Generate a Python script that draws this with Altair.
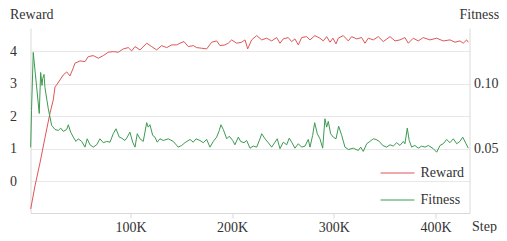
import altair as alt
import pandas as pd

FONT = "Liberation Serif, Times New Roman, Times, serif"
FS = 14

# ---- data ----
reward_steps = [
    1900, 6100, 11000, 15900, 20900, 24100, 25800, 27400, 30700, 33900,
    37300, 40500, 43800, 45400, 50400, 55300, 58500, 63400, 68400, 73300,
    78200, 83100, 88000, 93000, 97900, 101200, 104500, 109400, 116000, 120900,
    125800, 130700, 135600, 140600, 145500, 148700, 152700, 156900, 161800, 165100,
    170100, 175000, 179900, 184800, 188100, 193000, 196200, 199600, 204500, 209400,
    212700, 215300, 219200, 224200, 229100, 234000, 238900, 243800, 247100, 250300,
    255200, 258600, 261800, 265100, 268400, 273300, 276600, 281500, 286400, 289700,
    293000, 296300, 299200, 302200, 304400, 309300, 314300, 317600, 322500, 327400,
    330700, 333900, 338900, 343800, 348700, 355300, 360200, 365100, 370000, 373300,
    378200, 383100, 388000, 394600, 401200, 407700, 414300, 419200, 424100, 427300,
    430700, 432300,
]
reward_values = [
    -0.846, -0.138, 0.569, 1.338, 2.108, 2.508, 2.908, 2.969, 3.123, 3.277,
    3.369, 3.246, 3.492, 3.637, 3.708, 3.686, 3.84, 3.871, 3.791, 3.871,
    3.975, 3.994, 3.975, 4.077, 4.117, 4.015, 4.148, 4.046, 4.252, 4.148,
    4.046, 4.178, 4.117, 4.2, 4.2, 4.252, 4.302, 4.148, 4.178, 4.117,
    4.098, 4.077, 4.283, 4.323, 4.178, 4.2, 4.252, 4.354, 4.252, 4.283,
    4.354, 4.077, 4.354, 4.486, 4.354, 4.406, 4.323, 4.425, 4.252, 4.385,
    4.425, 4.302, 4.385, 4.2, 4.425, 4.455, 4.354, 4.486, 4.406, 4.323,
    4.455, 4.283, 4.406, 4.231, 4.406, 4.486, 4.323, 4.455, 4.385, 4.425,
    4.252, 4.406, 4.354, 4.455, 4.302, 4.455, 4.323, 4.354, 4.425, 4.252,
    4.406, 4.323, 4.425, 4.354, 4.406, 4.323, 4.354, 4.283, 4.323, 4.252,
    4.354, 4.283,
]

fitness_steps = [
    1900, 2700, 4400, 10300, 11700, 13000, 13700, 15000, 15900, 17900,
    19200, 22500, 25800, 29000, 31400, 33900, 37300, 38900, 41200, 43800,
    46400, 48700, 52000, 55300, 57500, 60200, 63400, 66800, 70000, 73300,
    76600, 79900, 83100, 85800, 89000, 91400, 94600, 96900, 99500, 102200,
    104500, 106700, 109400, 112600, 116000, 117500, 119200, 121900, 124100, 126400,
    129000, 132300, 137200, 142100, 147000, 150400, 153600, 158600, 161800, 164500,
    168400, 171600, 175000, 178200, 181500, 184800, 187400, 189000, 191300, 194700,
    197200, 200600, 202800, 206100, 208400, 211700, 214300, 217600, 220800, 224200,
    227400, 229100, 232400, 235600, 238900, 242200, 244400, 247100, 250300, 253700,
    256200, 258600, 261800, 265100, 268400, 271700, 274900, 276600, 279200, 281200,
    283800, 286400, 289100, 291300, 293000, 294600, 296900, 299500, 302200, 304800,
    307800, 311000, 314300, 319200, 324100, 326500, 329000, 332400, 335600, 338900,
    341500, 344800, 348100, 352000, 355300, 358500, 361900, 365100, 368400, 370000,
    372300, 374200, 376600, 379800, 383100, 386500, 389700, 393000, 397900, 401200,
    404500, 407700, 411000, 414300, 417600, 420900, 424100, 426800, 430100, 432300,
]
fitness_values = [
    0.0512, 0.0796, 0.1242, 0.0773, 0.1088, 0.0988, 0.1042, 0.1073, 0.0973, 0.0873,
    0.0809, 0.0681, 0.065, 0.0642, 0.066, 0.0635, 0.065, 0.0686, 0.0629, 0.0591,
    0.0558, 0.0578, 0.0558, 0.0514, 0.0578, 0.0532, 0.0514, 0.0532, 0.0578, 0.0548,
    0.0558, 0.0552, 0.0617, 0.0655, 0.0591, 0.0583, 0.0565, 0.0591, 0.0629, 0.0552,
    0.0514, 0.0617, 0.0578, 0.0558, 0.0702, 0.0668, 0.0686, 0.0604, 0.0591, 0.0552,
    0.0578, 0.0565, 0.0578, 0.0558, 0.0514, 0.0527, 0.0548, 0.0573, 0.0552, 0.0578,
    0.0565, 0.0548, 0.0573, 0.0514, 0.0558, 0.0591, 0.0642, 0.0686, 0.065, 0.0578,
    0.0598, 0.0565, 0.0532, 0.0591, 0.0558, 0.0548, 0.0565, 0.0506, 0.0522, 0.0514,
    0.0578, 0.0617, 0.0578, 0.0548, 0.0514, 0.0552, 0.0578, 0.0502, 0.0552, 0.0532,
    0.0583, 0.0552, 0.0506, 0.054, 0.0514, 0.0522, 0.0573, 0.0514, 0.0604, 0.0702,
    0.0617, 0.0578, 0.0506, 0.0732, 0.0668, 0.0712, 0.0617, 0.0591, 0.0578, 0.0675,
    0.0604, 0.0514, 0.0496, 0.0506, 0.0488, 0.0514, 0.0481, 0.054, 0.0558, 0.0578,
    0.0573, 0.0558, 0.0527, 0.0514, 0.0532, 0.0522, 0.0548, 0.0527, 0.0558, 0.054,
    0.066, 0.0565, 0.0514, 0.0527, 0.0506, 0.0522, 0.0514, 0.0527, 0.0502, 0.0475,
    0.0527, 0.054, 0.0573, 0.0548, 0.0578, 0.054, 0.0558, 0.0591, 0.054, 0.0506,
]

series_names = ["Reward", "Fitness"]
series_colors = ["#e05556", "#3d9a52"]
x_ticks = [100000, 200000, 300000, 400000]
reward_ticks = [0, 1, 2, 3, 4]
fitness_ticks = [0.05, 0.10]

df_r = pd.DataFrame({"step": reward_steps, "value": reward_values, "series": "Reward"})
df_f = pd.DataFrame({"step": fitness_steps, "value": fitness_values, "series": "Fitness"})

axis_text = dict(labelFont=FONT, titleFont=FONT, labelFontSize=FS, titleFontSize=FS,
                 labelColor="#333", titleColor="#333", titleFontWeight="normal")

x_enc = alt.X(
    "step:Q",
    scale=alt.Scale(domain=[1700, 433500], nice=False, zero=False),
    axis=alt.Axis(values=x_ticks, labelExpr="datum.value / 1000 + 'K'", grid=False,
                  tickSize=5, labelPadding=2, title="Step", titleX=441, titleY=13,
                  titleAlign="left", titleBaseline="middle", titleAngle=0, **axis_text),
)

color = alt.Color(
    "series:N",
    scale=alt.Scale(domain=series_names, range=series_colors),
    legend=alt.Legend(title=None, orient="none", legendX=360, legendY=138,
                      symbolType="M-3,0H3", symbolSize=128, symbolStrokeWidth=1,
                      labelOffset=16, rowPadding=13, padding=0, labelFontSize=FS,
                      labelFont=FONT, labelColor="#333"),
)

reward_line = alt.Chart(df_r).mark_line(strokeWidth=1).encode(
    x=x_enc,
    y=alt.Y("value:Q",
            scale=alt.Scale(domain=[-0.97, 4.72], nice=False, zero=False),
            axis=alt.Axis(orient="left", values=reward_ticks, grid=True, ticks=False,
                          labelPadding=14, title="Reward", titleAngle=0,
                          titleAlign="left", titleBaseline="middle",
                          titleX=-21, titleY=-13.5, **axis_text)),
    color=color,
)

fitness_line = alt.Chart(df_f).mark_line(strokeWidth=1).encode(
    x=x_enc,
    y=alt.Y("value:Q",
            scale=alt.Scale(domain=[0.00075, 0.143], nice=False, zero=False),
            axis=alt.Axis(orient="right", values=fitness_ticks, format=".2f", grid=False,
                          ticks=False, labelPadding=4, title="Fitness", titleAngle=0,
                          titleAlign="left", titleBaseline="middle",
                          titleX=-10.5, titleY=-13.5, **axis_text)),
    color=color,
)

chart = (
    alt.layer(reward_line, fitness_line)
    .resolve_scale(y="independent")
    .properties(width=439, height=185,
                autosize=alt.AutoSizeParams(type="none"),
                padding={"left": 22.5, "top": 20, "right": 29.5, "bottom": 20})
    .configure(font=FONT)
    .configure_view(stroke=None)
    .configure_axis(domainColor="#d9d9d9", tickColor="#d9d9d9", gridColor="#e8e8e8")
)

chart.save("out.html", embed_options={"renderer": "svg", "actions": False})
